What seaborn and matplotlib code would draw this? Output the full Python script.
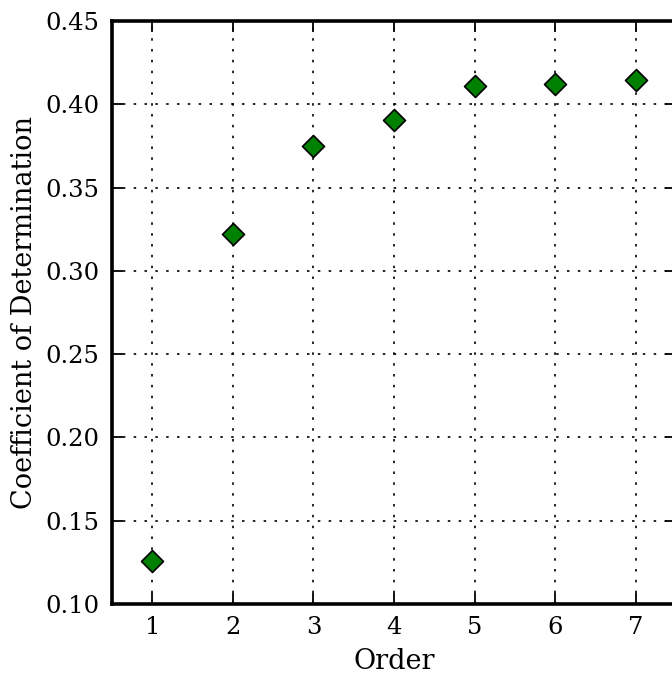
import matplotlib
matplotlib.use("Agg")
import matplotlib.pyplot as plt
import seaborn as sns
import pandas as pd

# Model order versus goodness of fit
orders = [1, 2, 3, 4, 5, 6, 7]
r_squared = [0.126, 0.322, 0.375, 0.3905, 0.4107, 0.4122, 0.4143]
y_ticks = [0.10, 0.15, 0.20, 0.25, 0.30, 0.35, 0.40, 0.45]

df = pd.DataFrame({"Order": orders, "R2": r_squared})

sns.set_style("ticks")
plt.rcParams["font.family"] = ["DejaVu Serif"]
plt.rcParams["font.size"] = 17
plt.rcParams["text.color"] = "black"
plt.rcParams["axes.labelcolor"] = "black"

fig = plt.figure(figsize=(6.72, 6.77), dpi=100)
ax = fig.add_axes([112 / 672, 73 / 677, 564 / 672, 583 / 677])

ax.grid(True, color="black", linestyle=(0, (1.5, 5)), linewidth=1.2)
ax.set_axisbelow(True)

sns.scatterplot(data=df, x="Order", y="R2", marker="D", s=125,
                color="#008000", edgecolor="black", linewidth=1.2,
                zorder=3, ax=ax)

ax.set_xlim(0.5, 7.5)
ax.set_ylim(0.10, 0.45)
ax.set_xticks(orders)
ax.set_yticks(y_ticks)
ax.set_yticklabels([f"{v:.2f}" for v in y_ticks])
ax.tick_params(direction="in", length=8, width=1.3, labelsize=17.5,
               top=True, right=True, pad=9, colors="black")
for side in ax.spines.values():
    side.set_linewidth(2.6)
    side.set_color("black")

ax.set_xlabel("Order", fontsize=19.5, labelpad=6, color="black")
ax.set_ylabel("Coefficient of Determination", fontsize=19.5, labelpad=5,
              color="black")

fig.savefig("out.png", dpi=100)
